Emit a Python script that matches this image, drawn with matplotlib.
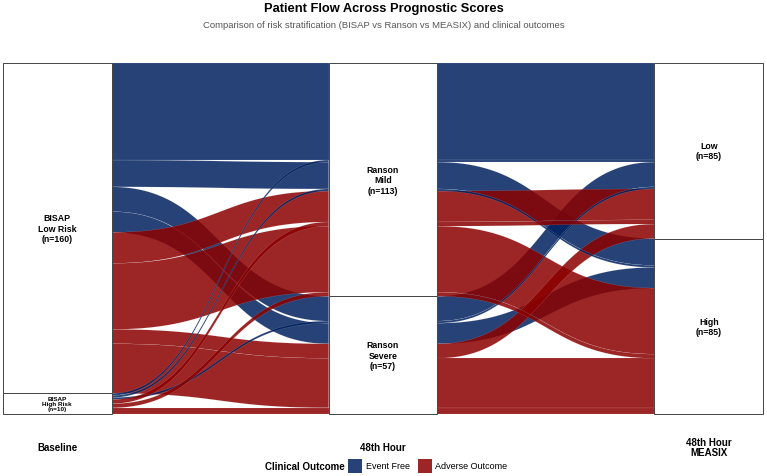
import numpy as np
import matplotlib.pyplot as plt
from matplotlib.patches import Polygon, Rectangle

plt.rcParams['font.family'] = ['Liberation Sans', 'DejaVu Sans']

# strata levels (top to bottom) for each axis
axis_titles = ["Baseline", "48th Hour", "48th Hour\nMEASIX"]
bisap_levels = ["Low Risk", "High Risk"]
ranson_levels = ["Mild", "Severe"]
measix_levels = ["Low", "High"]
outcome_levels = ["Event Free", "Adverse Outcome"]
outcome_colors = ["#00215E", "#8B0000"]

# one entry per alluvium (patient cohort)
bisap   = ["Low Risk"] * 8 + ["High Risk"] * 6
ranson  = ["Mild", "Mild", "Severe", "Severe", "Mild", "Mild", "Severe", "Severe",
           "Mild", "Mild", "Severe", "Mild", "Mild", "Severe"]
measix  = ["Low", "High", "Low", "High", "Low", "High", "Low", "High",
           "Low", "High", "Low", "Low", "High", "High"]
outcome = ["Event Free"] * 4 + ["Adverse Outcome"] * 4 + \
          ["Event Free"] * 3 + ["Adverse Outcome"] * 3
counts  = [47, 13, 12, 10, 15, 32, 7, 24,
           1, 1, 1, 2, 2, 3]

levels = [bisap_levels, ranson_levels, measix_levels]
cols = [bisap, ranson, measix]
n_tot = sum(counts)
n_coh = len(counts)
xpos = [1, 2, 3]
w = 1 / 3

# stratum index of each cohort on each axis
s = [[levels[a].index(cols[a][i]) for i in range(n_coh)] for a in range(3)]
f = [outcome_levels.index(o) for o in outcome]

# lode ordering within strata: stratum, fill, then the other axes (zigzag)
others = {0: [1, 2], 1: [2, 0], 2: [1, 0]}
tops = np.zeros((3, n_coh))
for a in range(3):
    order = sorted(range(n_coh),
                   key=lambda i: (s[a][i], f[i], s[others[a][0]][i], s[others[a][1]][i]))
    cum = 0
    for i in order:
        tops[a, i] = n_tot - cum
        cum += counts[i]


def sigmoid_path(x0, x1, y0, y1, k=0.5, n=80):
    t = np.linspace(0, 1, n)
    dx = x1 - x0
    bx = (1 - t)**3 * x0 + 3 * (1 - t)**2 * t * (x0 + k * dx) + \
         3 * (1 - t) * t**2 * (x1 - k * dx) + t**3 * x1
    by = (1 - t)**3 * y0 + 3 * (1 - t)**2 * t * y0 + 3 * (1 - t) * t**2 * y1 + t**3 * y1
    return bx, by


fig = plt.figure(figsize=(7.67, 4.77), dpi=100)
ax = fig.add_axes([0, 62 / 477, 1, 351 / 477])
ax.set_xlim(0.8241, 3.1790)
ax.set_ylim(0, n_tot)
ax.axis('off')

# flows
for i in range(n_coh):
    for a in range(2):
        x0 = xpos[a] + w / 2
        x1 = xpos[a + 1] - w / 2
        tx, ty = sigmoid_path(x0, x1, tops[a, i], tops[a + 1, i])
        bx, by = sigmoid_path(x0, x1, tops[a, i] - counts[i], tops[a + 1, i] - counts[i])
        pts = np.vstack([np.column_stack([tx, ty]), np.column_stack([bx[::-1], by[::-1]])])
        ax.add_patch(Polygon(pts, closed=True, facecolor=outcome_colors[f[i]],
                             alpha=0.85, edgecolor='white', linewidth=0.08, zorder=2))

# strata boxes and labels
prefix = ["BISAP\n", "Ranson\n", ""]
for a in range(3):
    cum = 0
    for j, lvl in enumerate(levels[a]):
        n = sum(c for c, v in zip(counts, cols[a]) if v == lvl)
        top = n_tot - cum
        ax.add_patch(Rectangle((xpos[a] - w / 2, top - n), w, n, facecolor='white',
                               edgecolor='#444444', linewidth=0.7, zorder=3, clip_on=False))
        if n > 20:
            fs, ls = 6.3, 1.2
        else:
            fs, ls = 4.6, 0.95
        ax.text(xpos[a], top - n / 2, f"{prefix[a]}{lvl}\n(n={n})", ha='center', va='center',
                fontsize=fs, fontweight='bold', linespacing=ls, zorder=4)
        cum += n

# axis titles below
for a in range(3):
    fig.text(ax.transData.transform((xpos[a], 0))[0] / fig.bbox.width, 1 - 448 / 477,
             axis_titles[a], ha='center', va='center', fontsize=7, fontweight='bold',
             linespacing=1.0)

fig.text(0.5, 1 - 9 / 477, "Patient Flow Across Prognostic Scores", ha='center', va='center',
         fontsize=9.3, fontweight='bold')
fig.text(0.5, 1 - 25 / 477,
         "Comparison of risk stratification (BISAP vs Ranson vs MEASIX) and clinical outcomes",
         ha='center', va='center', fontsize=6.8, color='#555555')

# legend
ly = 1 - 467 / 477
fig.text(345 / 767, ly, "Clinical Outcome", ha='right', va='center', fontsize=7, fontweight='bold')
for x_sq, x_txt, col, lab in [(348, 366, outcome_colors[0], outcome_levels[0]),
                              (418, 435, outcome_colors[1], outcome_levels[1])]:
    fig.patches.append(Rectangle((x_sq / 767, ly - 7 / 477), 14 / 767, 14 / 477,
                                 transform=fig.transFigure, facecolor=col, alpha=0.85,
                                 edgecolor='none'))
    fig.text(x_txt / 767, ly, lab, ha='left', va='center', fontsize=6.5)

fig.savefig("out.png", dpi=100)
